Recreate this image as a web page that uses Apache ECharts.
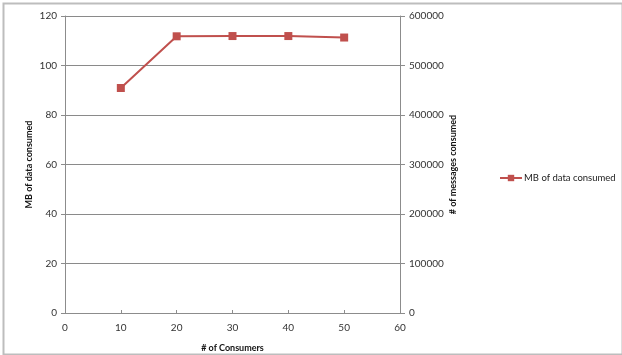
<!DOCTYPE html>
<html>
<head>
<meta charset="utf-8">
<script src="https://cdn.jsdelivr.net/npm/echarts@6/dist/echarts.min.js"></script>
<style>
html,body{margin:0;padding:0;background:#fff;}
#c{width:622px;height:355px;}
</style>
</head>
<body>
<div id="c"></div>
<script>
const consumers = [10, 20, 30, 40, 50];
const mbConsumed = [90.9, 111.8, 111.9, 111.9, 111.3];
const seriesName = 'MB of data consumed';
const xTicks = [0, 10, 20, 30, 40, 50, 60];
const leftTicks = [0, 20, 40, 60, 80, 100, 120];
const rightTicks = [0, 100000, 200000, 300000, 400000, 500000, 600000];

const chart = echarts.init(document.getElementById('c'), null, {renderer: 'canvas'});
const font = 'Lato, "Open Sans", sans-serif';
const axisGrey = '#8c8c8c';
chart.setOption({
  animation: false,
  backgroundColor: '#fff',
  textStyle: {fontFamily: font},
  graphic: [{
    type: 'rect', left: 1, top: 1,
    shape: {x: 0, y: 0, width: 619, height: 351},
    style: {fill: 'none', stroke: '#bdbdbd', lineWidth: 2},
    silent: true
  }],
  grid: {left: 65, right: 222, top: 16, bottom: 42, containLabel: false, outerBoundsMode: 'none'},
  legend: {
    data: [seriesName],
    left: 499, top: 173, padding: 0,
    itemWidth: 22, itemHeight: 8, itemGap: 4,
    textStyle: {fontSize: 9.5, color: '#222', fontFamily: font, padding: [0, 0, 0, -3]}
  },
  xAxis: {
    type: 'value', min: xTicks[0], max: xTicks[xTicks.length - 1], interval: 10,
    name: '# of Consumers', nameLocation: 'middle', nameGap: 31, nameMoveOverlap: false,
    nameTextStyle: {fontSize: 9, fontWeight: 'bold', color: '#111', fontFamily: font},
    axisLine: {show: true, lineStyle: {color: axisGrey, width: 1}},
    axisTick: {show: true, length: 3, inside: true, lineStyle: {color: axisGrey}},
    axisLabel: {fontSize: 10, color: '#333', margin: 10, fontFamily: font},
    splitLine: {show: false}
  },
  yAxis: [{
    type: 'value', min: leftTicks[0], max: leftTicks[leftTicks.length - 1], interval: 20,
    name: 'MB of data consumed', nameLocation: 'middle', nameGap: 31, nameRotate: 90, nameMoveOverlap: false,
    nameTextStyle: {fontSize: 9, fontWeight: 'bold', color: '#111', fontFamily: font},
    axisLine: {show: true, lineStyle: {color: axisGrey, width: 1}},
    axisTick: {show: true, length: 4, lineStyle: {color: axisGrey}},
    axisLabel: {fontSize: 10, color: '#333', margin: 8, fontFamily: font},
    splitLine: {show: true, lineStyle: {color: '#8a8a8a', width: 1}}
  }, {
    type: 'value', position: 'right', min: rightTicks[0], max: rightTicks[rightTicks.length - 1], interval: 100000,
    name: '# of messages consumed', nameLocation: 'middle', nameGap: 49, nameRotate: 90, nameMoveOverlap: false,
    nameTextStyle: {fontSize: 9, fontWeight: 'bold', color: '#111', fontFamily: font},
    axisLine: {show: true, lineStyle: {color: axisGrey, width: 1}},
    axisTick: {show: true, length: 5, lineStyle: {color: axisGrey}},
    axisLabel: {fontSize: 10, color: '#333', margin: 9, fontFamily: font, formatter: v => String(v)},
    splitLine: {show: false}
  }],
  series: [{
    name: seriesName,
    type: 'line',
    yAxisIndex: 0,
    data: consumers.map((c, i) => [c, mbConsumed[i]]),
    symbol: 'rect', symbolSize: 8,
    lineStyle: {color: '#c0504d', width: 2},
    itemStyle: {color: '#c0504d'}
  }]
});
</script>
</body>
</html>
